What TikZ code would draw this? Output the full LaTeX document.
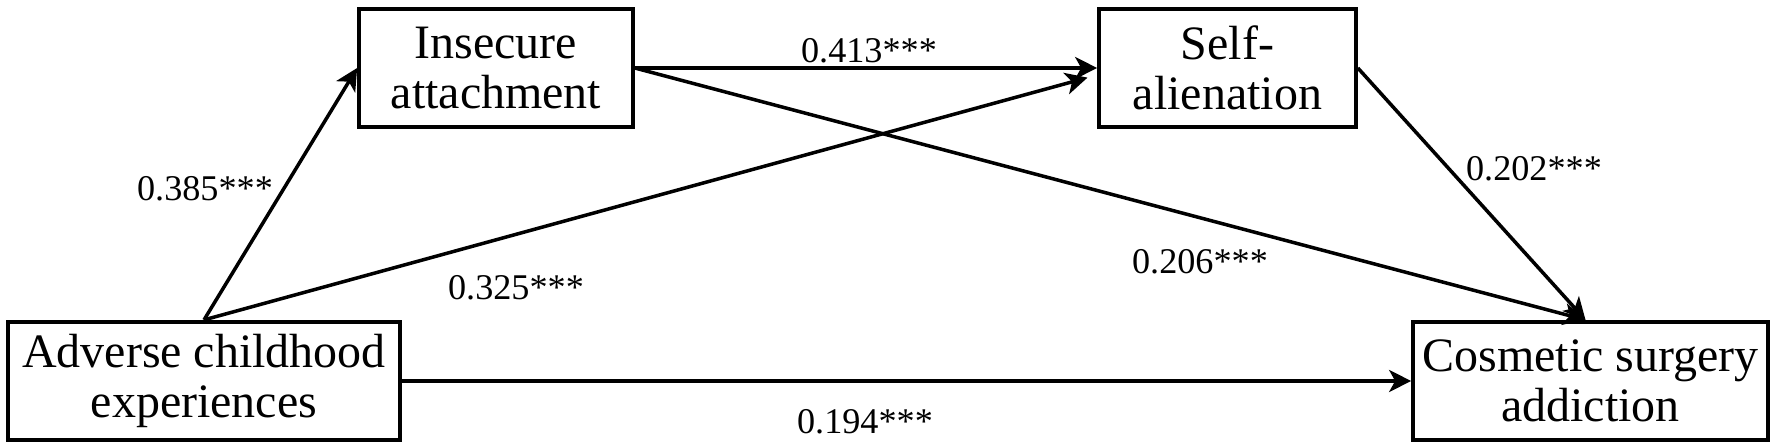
\documentclass[tikz,border=0pt]{standalone}
\usepackage{fontspec}
\setmainfont{Liberation Serif}
\usetikzlibrary{positioning, arrows.meta, calc}
\tikzset{every picture/.append style={thick}}

\begin{document}
\begin{tikzpicture}[
    var/.style={draw, line width=2.1pt, align=center, inner sep=0pt, minimum height=2.37cm, font=\fontsize{27.3}{28.5}\selectfont},
    eff/.style={-{Stealth[length=0.44cm, width=0.44cm, inset=0.12cm]}, line width=2pt},
    coef/.style={inner sep=0pt, font=\fontsize{20.6}{22}\selectfont}
]
    \useasboundingbox (0,0) rectangle (35.44,8.96);

    % Variables
    \node[var, minimum width=7.84cm] (ace) at (4.08,1.34) {Adverse childhood\\experiences};
    \node[var, minimum width=5.48cm] (ins) at (9.92,7.6) {Insecure\\attachment};
    \node[var, minimum width=5.14cm] (sa) at (24.55,7.6) {Self-\\alienation};
    \node[var, minimum width=7.1cm] (csa) at (31.81,1.34) {Cosmetic surgery\\addiction};

    % Paths
    \draw[eff] (ace.north) -- (ins.west);
    \draw[eff, shorten >=0.2cm] (ace.north) -- ([yshift=-0.14cm]sa.west);
    \draw[eff] (ins.east) -- (sa.west);
    \draw[eff] (ins.east) -- ([xshift=-0.1cm]csa.north);
    \draw[eff] (sa.east) -- ([xshift=-0.1cm]csa.north);
    \draw[eff] (ace.east) -- (csa.west);

    % Path coefficients
    \node[coef] (c1) at (4.1,5.18) {0.385***};
    \node[coef] (c2) at (10.32,3.2) {0.325***};
    \node[coef] (c3) at (17.38,7.94) {0.413***};
    \node[coef] (c4) at (24.0,3.72) {0.206***};
    \node[coef] (c5) at (30.68,5.58) {0.202***};
    \node[coef] (c6) at (17.3,0.52) {0.194***};
\end{tikzpicture}
\end{document}
